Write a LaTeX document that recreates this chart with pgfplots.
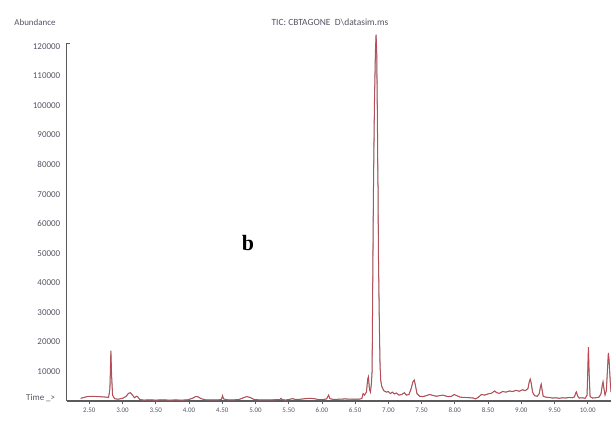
\documentclass[border=0pt]{standalone}
\usepackage{fontspec}
\setmainfont{Carlito}
\newfontfamily\serifb{Liberation Serif}
\usepackage{pgfplots}
\usepackage{pgfplotstable}
\pgfplotsset{compat=1.18}
\definecolor{axgray}{RGB}{90,90,95}
\definecolor{lblgray}{RGB}{85,85,100}
\definecolor{trgray}{RGB}{140,115,115}
\definecolor{trred}{RGB}{205,60,75}

\pgfplotstableread{
t a
2.37 900
2.42 1200
2.47 1500
2.55 1600
2.62 1500
2.70 1400
2.76 1300
2.79 1200
2.81 4000
2.825 17000
2.835 9000
2.85 2000
2.88 800
2.93 600
3.00 900
3.05 1500
3.09 2600
3.12 2800
3.15 2000
3.18 1100
3.21 1600
3.23 1400
3.26 500
3.32 300
3.40 400
3.50 300
3.60 400
3.70 300
3.80 350
3.90 300
3.98 400
4.05 900
4.10 1500
4.14 1400
4.18 800
4.25 400
4.35 350
4.45 400
4.49 600
4.505 1800
4.52 700
4.58 400
4.65 350
4.75 500
4.82 1100
4.87 1500
4.92 1200
4.98 500
5.05 400
5.15 350
5.25 400
5.33 450
5.37 500
5.385 900
5.40 500
5.45 300
5.52 600
5.56 800
5.60 500
5.68 600
5.75 800
5.82 900
5.88 800
5.95 500
6.02 500
6.07 700
6.09 1500
6.10 2000
6.12 800
6.18 500
6.25 600
6.35 700
6.45 600
6.55 600
6.60 800
6.62 2500
6.64 2000
6.67 3000
6.69 7500
6.70 8200
6.715 4000
6.73 3000
6.745 6000
6.755 10000
6.765 40000
6.775 70000
6.79 100000
6.805 118000
6.815 124000
6.825 118000
6.835 95000
6.842 75000
6.845 72000
6.85 50000
6.855 42000
6.865 25000
6.875 12000
6.885 7000
6.90 5000
6.93 3500
6.97 3000
7.00 3200
7.03 2500
7.06 3000
7.09 2400
7.12 2700
7.16 2000
7.20 2200
7.24 2800
7.27 2000
7.31 2200
7.34 4000
7.37 6500
7.39 7100
7.41 5000
7.43 2500
7.47 1600
7.52 1500
7.57 1800
7.62 2200
7.67 1900
7.72 1600
7.77 1800
7.82 2000
7.86 1700
7.90 1500
7.95 1600
7.99 2200
8.03 1800
8.08 1300
8.15 1200
8.22 1100
8.28 1000
8.31 700
8.35 1200
8.40 2200
8.45 2000
8.50 2400
8.55 2600
8.60 3400
8.63 2800
8.67 2600
8.72 3200
8.77 3000
8.82 3400
8.87 3200
8.92 3600
8.97 3300
9.02 3800
9.06 3500
9.10 4200
9.12 6500
9.135 7400
9.15 6000
9.17 3000
9.20 1800
9.24 1600
9.27 2500
9.29 5000
9.30 5700
9.315 3500
9.33 1600
9.37 1300
9.42 1200
9.47 1000
9.52 1100
9.57 900
9.62 1100
9.67 1000
9.72 1200
9.77 1100
9.80 1400
9.82 2800
9.83 3100
9.845 1800
9.87 1000
9.92 1100
9.96 900
9.99 2000
10.00 10000
10.01 18200
10.02 10000
10.035 1500
10.07 1000
10.12 1100
10.17 1300
10.20 2500
10.22 5500
10.23 6500
10.245 4000
10.26 2000
10.28 3500
10.30 12000
10.31 16300
10.32 14000
10.34 6000
10.35 3000
}\tic

\begin{document}
\begin{tikzpicture}
\path[use as bounding box] (0,0) rectangle (611bp,424bp);
\begin{axis}[
  at={(66.7bp,23bp)}, anchor=south west,
  scale only axis, width=544.3bp, height=357.6bp,
  xmin=2.16, xmax=10.35, ymin=0, ymax=121000,
  axis x line=bottom, axis y line=left,
  axis line style={-, draw=axgray, line width=1.1pt},
  scaled y ticks=false, scaled x ticks=false,
  clip=false,
  xtick={2.5,3,3.5,4,4.5,5,5.5,6,6.5,7,7.5,8,8.5,9,9.5,10},
  xticklabels={2.50,3.00,3.50,4.00,4.50,5.00,5.50,6.00,6.50,7.00,7.50,8.00,8.50,9.00,9.50,10.00},
  ytick={10000,20000,30000,40000,50000,60000,70000,80000,90000,100000,110000,120000},
  yticklabels={10000,20000,30000,40000,50000,60000,70000,80000,90000,100000,110000,120000},
  tick align=outside,
  major tick length=3bp,
  x tick style={draw=axgray, line width=0.8pt},
  y tick style={draw opacity=0},
  yticklabel style={font=\fontsize{9}{9}\selectfont, text=lblgray},
  xticklabel style={font=\fontsize{7}{7}\selectfont, text=lblgray},
]
\addplot[draw=trgray, line width=1pt, no markers] table[x=t, y=a] {\tic};
\addplot[draw=trred, line width=0.6pt, opacity=0.85, no markers] table[x=t, y=a] {\tic};
\draw[draw=axgray, line width=1.1pt] (axis cs:2.16,121000) -- (axis cs:2.21,121000);
\node[anchor=east, font=\fontsize{9}{9}\selectfont, text=lblgray, xshift=-8bp, yshift=3bp] at (axis cs:2.16,0) {Time \_>};
\end{axis}
\node[font=\fontsize{9.5}{9.5}\selectfont, text=lblgray] at (330bp,402bp) {TIC: CBTAGONE\ \ D\textbackslash datasim.ms};
\node[font=\fontsize{9}{9}\selectfont, text=lblgray] at (35bp,402bp) {Abundance};
\node[font=\serifb\bfseries\fontsize{22}{22}\selectfont] at (248bp,181bp) {b};
\end{tikzpicture}
\end{document}
